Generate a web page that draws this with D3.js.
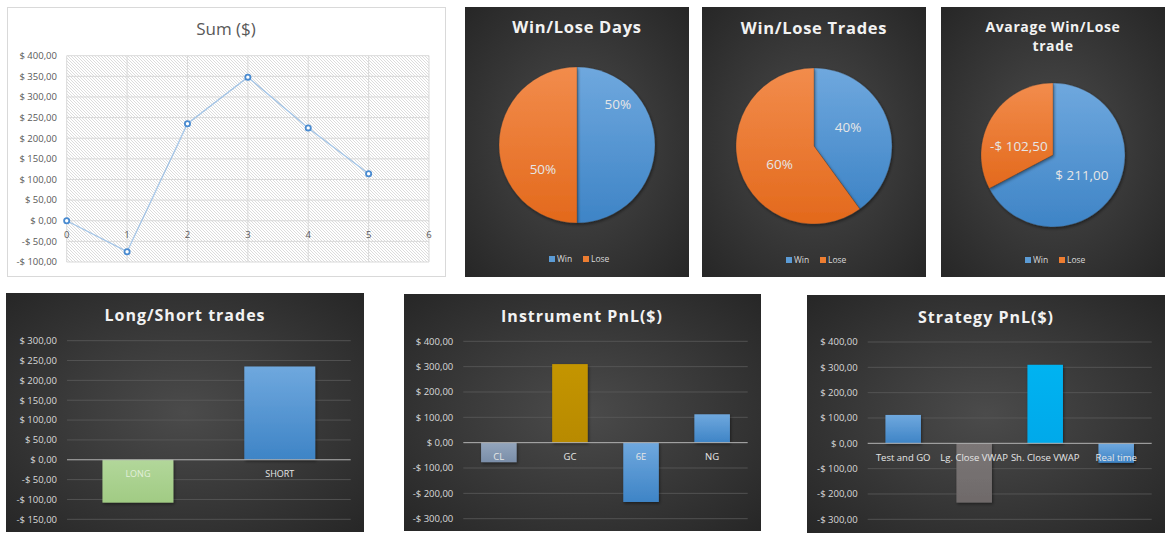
<!DOCTYPE html>
<html><head><meta charset="utf-8">
<script src="https://cdn.jsdelivr.net/npm/d3@7"></script>
<style>body{margin:0;background:#fff} svg{display:block}</style>
</head><body><svg id="c" width="1175" height="540"></svg>
<script>
// ---------- DATA ----------
const sumX = [0, 1, 2, 3, 4, 5];
const sumValues = [0, -75, 235, 348, 225, 114];
const sumXTicks = [0, 1, 2, 3, 4, 5, 6];
const sumYTicks = [-100, -50, 0, 50, 100, 150, 200, 250, 300, 350, 400];

const pieCategories = ["Win", "Lose"];
const winLoseDays = [50, 50];
const winLoseTrades = [40, 60];
const avgWinLoseTrade = [211.00, -102.50];

const longShortCategories = ["LONG", "SHORT"];
const longShortValues = [-108, 235];
const longShortTicks = [-150, -100, -50, 0, 50, 100, 150, 200, 250, 300];

const instrumentCategories = ["CL", "GC", "6E", "NG"];
const instrumentValues = [-77, 310, -234, 112];

const strategyCategories = ["Test and GO", "Lg. Close VWAP", "Sh. Close VWAP", "Real time"];
const strategyValues = [112, -234, 310, -77];

const pnlTicks = [-300, -200, -100, 0, 100, 200, 300, 400];

// ---------- HELPERS ----------
const money = v => (v < 0 ? "-" : "") + "$ " + d3.format(".2f")(Math.abs(v)).replace(".", ",");
const FONT = "'Open Sans', 'DejaVu Sans', sans-serif";
const svg = d3.select("#c");
const defs = svg.append("defs");

function grad(id, top, bottom) {
  const g = defs.append("linearGradient").attr("id", id).attr("x1", 0).attr("y1", 0).attr("x2", 0).attr("y2", 1);
  g.append("stop").attr("offset", "0%").attr("stop-color", top);
  g.append("stop").attr("offset", "100%").attr("stop-color", bottom);
  return `url(#${id})`;
}
const bg = defs.append("radialGradient").attr("id", "darkbg").attr("cx", "50%").attr("cy", "50%").attr("r", "75%");
bg.append("stop").attr("offset", "0%").attr("stop-color", "#4b4b4b");
bg.append("stop").attr("offset", "100%").attr("stop-color", "#242424");

const sh = defs.append("filter").attr("id", "shadow").attr("x", "-20%").attr("y", "-20%").attr("width", "140%").attr("height", "140%");
sh.append("feDropShadow").attr("dx", 1).attr("dy", 1.5).attr("stdDeviation", 1.5).attr("flood-color", "#000").attr("flood-opacity", 0.45);

const hatch = defs.append("pattern").attr("id", "hatch").attr("patternUnits", "userSpaceOnUse").attr("width", 3).attr("height", 3);
hatch.append("path").attr("d", "M-1,-1 L4,4 M2,-1 L4,1 M-1,2 L1,4").attr("stroke", "#cdcdcd").attr("stroke-width", 0.7);

const blueFill = grad("gBlue", "#6fa8de", "#3e84c6");
const orangeFill = grad("gOrange", "#f28c4c", "#e3691c");
const greenFill = grad("gGreen", "#b2d79a", "#a1cb84");
const clFill = grad("gCL", "#93a5bc", "#7a8ea9");
const gcFill = grad("gGC", "#c49500", "#b88a00");
const cyanFill = grad("gCyan", "#05b3f1", "#00a9ea");
const grayFill = grad("gGray", "#7b7676", "#6f6a6a");

// ---------- LINE CHART ----------
(function () {
  const g = svg.append("g");
  g.append("rect").attr("x", 7.5).attr("y", 7.5).attr("width", 438).attr("height", 269)
    .attr("fill", "#fff").attr("stroke", "#d9d9d9");
  const x = d3.scaleLinear().domain([0, 6]).range([66.7, 429]);
  const y = d3.scaleLinear().domain([-100, 400]).range([262, 55.7]);
  g.append("rect").attr("x", x(0)).attr("y", y(400)).attr("width", x(6) - x(0)).attr("height", y(-100) - y(400))
    .attr("fill", "url(#hatch)");
  g.selectAll(".hg").data(sumYTicks).join("line")
    .attr("x1", x(0)).attr("x2", x(6)).attr("y1", d => y(d)).attr("y2", d => y(d))
    .attr("stroke", "#d9d9d9").attr("stroke-width", 1);
  g.selectAll(".vg").data(sumXTicks).join("line")
    .attr("x1", d => x(d)).attr("x2", d => x(d)).attr("y1", y(400)).attr("y2", y(-100))
    .attr("stroke", "#d9d9d9").attr("stroke-width", 1);
  g.selectAll(".yl").data(sumYTicks).join("text")
    .attr("x", 57).attr("y", d => y(d)).attr("dy", "0.35em").attr("text-anchor", "end")
    .attr("font-family", FONT).attr("font-size", 9.5).attr("fill", "#595959").text(d => money(d));
  g.selectAll(".xl").data(sumXTicks).join("text")
    .attr("x", d => x(d)).attr("y", y(0) + 14).attr("dy", "0.35em").attr("text-anchor", "middle")
    .attr("font-family", FONT).attr("font-size", 9.5).attr("fill", "#595959").text(d => d);
  const pts = sumX.map((d, i) => [x(d), y(sumValues[i])]);
  g.append("path").attr("d", d3.line()(pts)).attr("fill", "none").attr("stroke", "#a3c4e6").attr("stroke-width", 1.3);
  g.selectAll(".mk").data(pts).join("circle")
    .attr("cx", d => d[0]).attr("cy", d => d[1]).attr("r", 2.6)
    .attr("fill", "#fff").attr("stroke", "#4a8bd0").attr("stroke-width", 1.8);
  g.append("text").attr("x", 226).attr("y", 29).attr("dy", "0.35em").attr("text-anchor", "middle")
    .attr("font-family", FONT).attr("font-size", 17).attr("fill", "#595959").text("Sum ($)");
})();

// ---------- PIE CHARTS ----------
function piePanel(cfg) {
  const g = svg.append("g");
  g.append("rect").attr("x", cfg.x).attr("y", cfg.y).attr("width", cfg.w).attr("height", cfg.h).attr("fill", "url(#darkbg)");
  const cx = cfg.x + cfg.w / 2;
  cfg.title.forEach((t, i) => {
    g.append("text").attr("x", cx).attr("y", cfg.titleY + i * cfg.titleLH).attr("dy", "0.35em")
      .attr("text-anchor", "middle").attr("font-family", FONT).attr("font-weight", 700)
      .attr("font-size", cfg.titleSize).attr("letter-spacing", cfg.titleLS).attr("fill", "#f2f2f2").text(t);
  });
  const pie = d3.pie().sort(null).value(d => Math.abs(d));
  const arcs = pie(cfg.values);
  const arc = d3.arc().innerRadius(0).outerRadius(cfg.r);
  const pg = g.append("g").attr("transform", `translate(${cx},${cfg.cy})`);
  pg.selectAll("path").data(arcs).join("path").attr("d", arc)
    .attr("fill", (d, i) => [blueFill, orangeFill][i])
    .attr("stroke", "rgba(60,60,60,0.5)").attr("stroke-width", 0.6)
    .attr("filter", "url(#shadow)");
  pg.selectAll("text").data(arcs).join("text")
    .attr("x", (d, i) => Math.sin(cfg.labelPos[i][0] * Math.PI / 180) * cfg.labelPos[i][1] * cfg.r)
    .attr("y", (d, i) => -Math.cos(cfg.labelPos[i][0] * Math.PI / 180) * cfg.labelPos[i][1] * cfg.r)
    .attr("dy", "0.35em").attr("text-anchor", "middle").attr("font-family", FONT)
    .attr("font-size", 13.5).attr("fill", "#e6e6e6").text(d => cfg.fmt(d.data));
  const lg = g.append("g").attr("transform", `translate(${cx},${cfg.legendY})`);
  const items = [{ t: pieCategories[0], f: "#5b9bd5", x: -28 }, { t: pieCategories[1], f: "#ed7d31", x: 6 }];
  items.forEach(it => {
    lg.append("rect").attr("x", it.x).attr("y", -3).attr("width", 6).attr("height", 6).attr("fill", it.f);
    lg.append("text").attr("x", it.x + 8).attr("y", 0).attr("dy", "0.35em").attr("font-family", FONT)
      .attr("font-size", 8.5).attr("fill", "#d9d9d9").text(it.t);
  });
}
piePanel({ x: 465, y: 7, w: 224, h: 270, title: ["Win/Lose Days"], titleY: 27, titleLH: 0, titleSize: 16.5, titleLS: 0.7,
  values: winLoseDays, r: 78, cy: 145, labelPos: [[45, 0.74], [234, 0.54]], fmt: d => d + "%", legendY: 259 });
piePanel({ x: 702, y: 7, w: 224, h: 270, title: ["Win/Lose Trades"], titleY: 28, titleLH: 0, titleSize: 16.5, titleLS: 0.7,
  values: winLoseTrades, r: 78, cy: 146, labelPos: [[61, 0.5], [242, 0.5]], fmt: d => d + "%", legendY: 260 });
piePanel({ x: 941, y: 7, w: 224, h: 270, title: ["Avarage Win/Lose", "trade"], titleY: 27, titleLH: 19.5, titleSize: 14, titleLS: 0.6,
  values: avgWinLoseTrade, r: 72, cy: 155, labelPos: [[125, 0.49], [285, 0.49]], fmt: d => money(d), legendY: 260 });

// ---------- BAR CHARTS ----------
function barPanel(cfg) {
  const g = svg.append("g");
  g.append("rect").attr("x", cfg.x).attr("y", cfg.y).attr("width", cfg.w).attr("height", cfg.h).attr("fill", "url(#darkbg)");
  g.append("text").attr("x", cfg.titleX).attr("y", cfg.titleY).attr("dy", "0.35em").attr("text-anchor", "middle")
    .attr("font-family", FONT).attr("font-weight", 700).attr("font-size", 16).attr("letter-spacing", 1)
    .attr("fill", "#f2f2f2").text(cfg.title);
  const ext = d3.extent(cfg.ticks);
  const y = d3.scaleLinear().domain(ext).range([cfg.plot.b, cfg.plot.t]);
  const x = d3.scaleBand().domain(cfg.cats).range([cfg.plot.l, cfg.plot.r]).paddingInner(0.5).paddingOuter(0.25);
  g.selectAll(".gl").data(cfg.ticks.filter(t => t !== 0)).join("line")
    .attr("x1", cfg.plot.l).attr("x2", cfg.plot.r).attr("y1", d => y(d)).attr("y2", d => y(d))
    .attr("stroke", "#5a5a5a").attr("stroke-width", 0.8);
  g.selectAll(".yl").data(cfg.ticks).join("text")
    .attr("x", cfg.plot.l - 10).attr("y", d => y(d)).attr("dy", "0.35em").attr("text-anchor", "end")
    .attr("font-family", FONT).attr("font-size", 9.5).attr("fill", "#d9d9d9").text(d => money(d));
  g.selectAll(".bar").data(cfg.values).join("rect")
    .attr("x", (d, i) => x(cfg.cats[i])).attr("width", x.bandwidth())
    .attr("y", d => y(Math.max(0, d))).attr("height", d => Math.abs(y(d) - y(0)))
    .attr("fill", (d, i) => cfg.colors[i]).attr("filter", "url(#shadow)");
  g.append("line").attr("x1", cfg.plot.l).attr("x2", cfg.plot.r).attr("y1", y(0)).attr("y2", y(0))
    .attr("stroke", "#b3b3b3").attr("stroke-width", 1);
  g.selectAll(".cl").data(cfg.cats).join("text")
    .attr("x", d => x(d) + x.bandwidth() / 2).attr("y", y(0) + 14).attr("dy", "0.35em").attr("text-anchor", "middle")
    .attr("font-family", FONT).attr("font-size", cfg.catSize).attr("fill", (d, i) => cfg.labelColors[i]).text(d => d);
}
barPanel({ x: 6, y: 293, w: 358, h: 239, title: "Long/Short trades", titleX: 185, titleY: 315,
  cats: longShortCategories, values: longShortValues, ticks: longShortTicks,
  plot: { l: 67, r: 350.7, t: 340.7, b: 519.3 }, colors: [greenFill, blueFill], labelColors: ["#e2efda", "#e6e6e6"], catSize: 9 });
barPanel({ x: 404, y: 294, w: 357, h: 237, title: "Instrument PnL($)", titleX: 582, titleY: 316,
  cats: instrumentCategories, values: instrumentValues, ticks: pnlTicks,
  plot: { l: 463.3, r: 747.7, t: 341.3, b: 518.7 }, colors: [clFill, gcFill, blueFill, blueFill],
  labelColors: ["#e6e6e6", "#e6e6e6", "#e6e6e6", "#e6e6e6"], catSize: 9.5 });
barPanel({ x: 807, y: 295, w: 358, h: 238, title: "Strategy PnL($)", titleX: 986, titleY: 317,
  cats: strategyCategories, values: strategyValues, ticks: pnlTicks,
  plot: { l: 867.7, r: 1151.7, t: 342, b: 519.3 }, colors: [blueFill, grayFill, cyanFill, blueFill],
  labelColors: ["#e6e6e6", "#e6e6e6", "#e6e6e6", "#e6e6e6"], catSize: 9.5 });
</script></body></html>
